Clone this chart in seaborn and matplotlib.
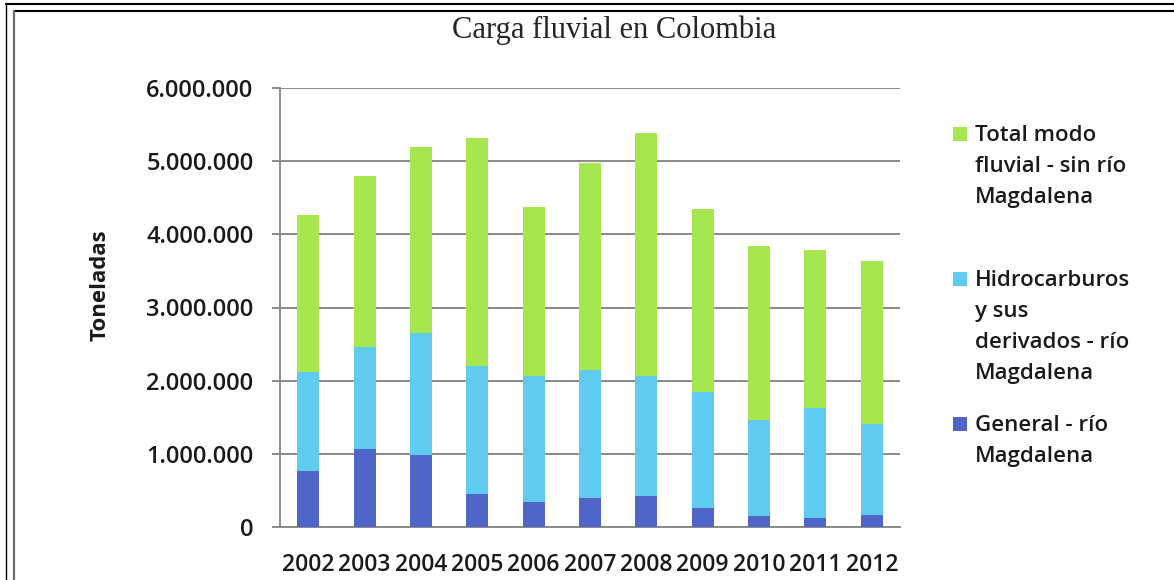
import seaborn as sns
import matplotlib.pyplot as plt
import pandas as pd
from matplotlib.lines import Line2D
from matplotlib.patches import Rectangle
from matplotlib.ticker import FuncFormatter

# values (toneladas)
years = ["2002", "2003", "2004", "2005", "2006", "2007", "2008", "2009", "2010", "2011", "2012"]
general = [770000, 1070000, 990000, 450000, 340000, 400000, 420000, 260000, 150000, 120000, 160000]
hidrocarburos = [1350000, 1390000, 1660000, 1750000, 1720000, 1740000, 1650000, 1590000, 1310000, 1510000, 1250000]
total_sin_magdalena = [2140000, 2340000, 2550000, 3110000, 2310000, 2830000, 3320000, 2490000, 2380000, 2150000, 2230000]

lbl_total = "Total modo\nfluvial - sin río\nMagdalena"
lbl_hidro = "Hidrocarburos\ny sus\nderivados - río\nMagdalena"
lbl_general = "General - río\nMagdalena"

c_total = "#A6E64F"
c_hidro = "#5FCBF1"
c_general = "#4F66C8"
txt = "#1a1a1a"

df = pd.DataFrame({"year": years, "general": general,
                   "hidro": hidrocarburos, "total": total_sin_magdalena})
# cumulative tops for the stacked look
df["top_general"] = df["general"]
df["top_hidro"] = df["general"] + df["hidro"]
df["top_total"] = df["top_hidro"] + df["total"]

sns.set_style("white")
plt.rcParams["font.family"] = ["Open Sans", "DejaVu Sans"]

W, H = 1174, 580
fig = plt.figure(figsize=(W / 100, H / 100), dpi=100)
ax = fig.add_axes([280 / W, 1 - 527 / H, 620 / W, 439 / H])

# back to front: total, hidrocarburos, general
for col, c in [("top_total", c_total), ("top_hidro", c_hidro), ("top_general", c_general)]:
    sns.barplot(data=df, x="year", y=col, color=c, width=0.39, saturation=1,
                edgecolor="none", linewidth=0, ax=ax, zorder=3)

ax.set_ylim(0, 6000000)
ax.set_xlim(-0.5, len(years) - 0.5)
ax.set_yticks(range(0, 6000001, 1000000))
ax.yaxis.set_major_formatter(FuncFormatter(lambda v, p: f"{v:,.0f}".replace(",", ".")))
ax.grid(axis="y", color="#8a8a8a", linewidth=1.4, zorder=0)
ax.set_axisbelow(True)

for s in ["top", "right"]:
    ax.spines[s].set_visible(False)
for s in ["left", "bottom"]:
    ax.spines[s].set_color("#8a8a8a")
    ax.spines[s].set_linewidth(1.4)

ax.set_xticks([i - 0.5 for i in range(len(years) + 1)], minor=True)
ax.tick_params(axis="x", which="major", length=0, pad=19, labelsize=16.5, labelcolor=txt)
ax.tick_params(axis="x", which="minor", length=6, width=1.4, color="#8a8a8a", direction="out")
ax.tick_params(axis="y", length=6, width=1.4, color="#8a8a8a", direction="out", pad=13,
               labelsize=17, labelcolor=txt, left=True)
for t in ax.get_xticklabels() + ax.get_yticklabels():
    t.set_fontweight(600)
ax.set_xlabel("")
ax.set_ylabel("")

fig.text(100 / W, 1 - 285 / H, "Toneladas", rotation=90, fontsize=16, fontweight="bold",
         ha="center", va="center", color=txt)

fig.text(614 / W, 1 - 38 / H, "Carga fluvial en Colombia", fontsize=22,
         family="Liberation Serif", ha="center", va="baseline")

# legend entries: square + multi-line label, first-line baselines
line_h = 31
entries = [(lbl_total, c_total, 141), (lbl_hidro, c_hidro, 286), (lbl_general, c_general, 431)]
for lab, col, base in entries:
    fig.add_artist(Rectangle((953 / W, 1 - base / H), 14 / W, 14 / H, transform=fig.transFigure,
                             facecolor=col, edgecolor="none"))
    # multi-line text with va="baseline" sits on its last line
    last = base + line_h * lab.count("\n")
    fig.text(975 / W, 1 - last / H, lab, fontsize=16, fontweight=600, color=txt,
             ha="left", va="baseline", linespacing=1.62)

# double frame around the picture
fig.add_artist(Line2D([6 / W, 1], [1 - 3.5 / H, 1 - 3.5 / H], color="black", linewidth=1.5))
fig.add_artist(Line2D([6 / W, 6 / W], [0, 1 - 3.5 / H], color="black", linewidth=1.0))
fig.add_artist(Line2D([13.5 / W, 1], [1 - 11 / H, 1 - 11 / H], color="black", linewidth=1.5))
fig.add_artist(Line2D([13.5 / W, 13.5 / W], [0, 1 - 11 / H], color="#6e6e6e", linewidth=1.6))

fig.savefig("out.png", dpi=100)
